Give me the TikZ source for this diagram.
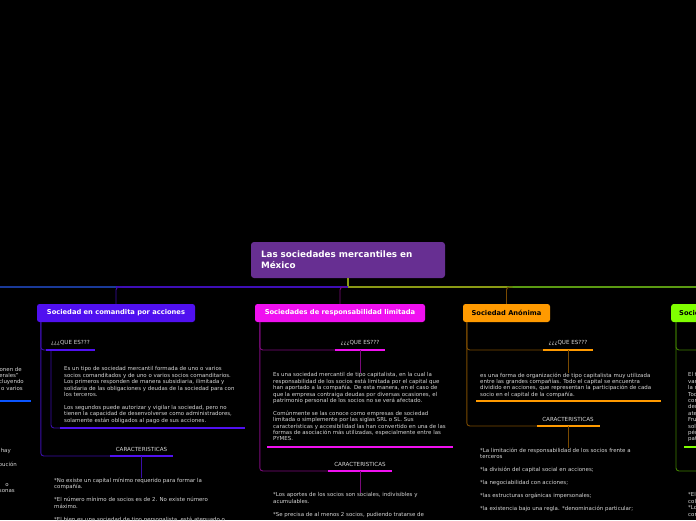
\documentclass[tikz,border=0pt]{standalone}
\usepackage{fontspec}
\setmainfont{DejaVu Sans}
\usetikzlibrary{positioning}

\definecolor{rootPurple}{HTML}{672F92}
\definecolor{cBlue}{HTML}{5010F0}
\definecolor{cMag}{HTML}{F010F0}
\definecolor{cOrange}{HTML}{FF9A00}
\definecolor{cGreen}{HTML}{80FF00}
\definecolor{cSky}{HTML}{0A55FF}
\definecolor{dBlue}{HTML}{3A0EA8}
\definecolor{dMag}{HTML}{7A0A7A}
\definecolor{dOrange}{HTML}{7A4A00}
\definecolor{dGreen}{HTML}{3F7F00}
\definecolor{lineNavy}{HTML}{1A3A99}
\definecolor{lineOlive}{HTML}{8A9A14}
\definecolor{lineGreen}{HTML}{5A9A12}
\definecolor{txt}{HTML}{D8D8D8}

\begin{document}
\begin{tikzpicture}[x=1pt,y=-1pt,
    topic/.style={rounded corners=2.5pt,minimum height=18pt,inner sep=0pt,
      font=\fontsize{6.7}{8}\selectfont\bfseries},
    tag/.style={inner sep=0pt,text=txt,font=\fontsize{5.6}{6}\selectfont},
    info/.style={anchor=north west,align=left,inner sep=0pt,text=txt,
      font=\fontsize{5.45}{6.4}\selectfont},
    cut/.style={anchor=east,inner sep=0pt,text=txt,font=\fontsize{5.45}{6.4}\selectfont},
    bar/.style={line width=2.4pt},
    link/.style={line width=0.9pt,rounded corners=3pt}]

    \useasboundingbox (0,0) rectangle (696,520);
    \fill[black] (0,0) rectangle (696,520);
    \clip (0,0) rectangle (696,520);

    % root and main line
    \node[rounded corners=3pt,fill=rootPurple,text=white,align=left,
      text width=174pt,inner xsep=10pt,inner ysep=0pt,minimum height=36pt,
      font=\fontsize{8.8}{11}\selectfont\bfseries] (root) at (348,260)
      {Las sociedades mercantiles en\\México};
    \coordinate (hub) at (348,287);
    \coordinate (westEnd) at (0,287);
    \coordinate (eastEnd) at (696,287);
    \draw[line width=1.2pt,lineOlive] (root.south) -- (hub);

    % branch nodes
    \node[topic,fill=cBlue,text=white,minimum width=158pt] (bN) at (116,313) {Sociedad en comandita por acciones};
    \node[topic,fill=cMag,text=white,minimum width=170pt] (mN) at (340,313) {Sociedades de responsabilidad limitada};
    \node[topic,fill=cOrange,text=black,minimum width=87pt] (oN) at (506.5,313) {Sociedad Anónima};
    \node[topic,fill=cGreen,text=black,inner xsep=8pt,anchor=west] (gN) at (671,313) {Sociedad en nombre colectivo};

    \draw[line width=1.2pt,lineNavy] (westEnd) -- (bN.north |- hub);
    \draw[line width=1.2pt,dBlue!80!cBlue] (bN.north |- hub) -- (hub);
    \draw[line width=1.2pt,lineOlive] (hub) -- (oN.north |- hub);
    \draw[line width=1.2pt,lineGreen] (oN.north |- hub) -- (eastEnd);
    \draw[link,dBlue] (bN.north) |- ([xshift=6pt]bN.north |- hub);
    \draw[link,dMag] (mN.north) |- ([xshift=6pt]mN.north |- hub);
    \draw[link,dOrange] (oN.north) |- ([xshift=6pt]oN.north |- hub);

    % ---- Sociedad en comandita por acciones
    \coordinate (bQa) at (46,350);  \coordinate (bQb) at (95,350);
    \coordinate (bIa) at (60,428);  \coordinate (bIb) at (245,428);
    \coordinate (bCa) at (110,456); \coordinate (bCb) at (173,456);
    \draw[link,dBlue] ([xshift=4pt]bN.south west) |- (bCa);
    \draw[link,dBlue] ([xshift=4pt]bN.south west) |- (bQa);
    \draw[link,dBlue] ([xshift=5pt]bQa) |- (bIa);
    \draw[bar,cBlue] (bQa) -- (bQb);
    \draw[bar,cBlue] (bIa) -- (bIb);
    \draw[bar,cBlue] (bCa) -- (bCb);
    \node[tag] (bQ) at (70.5,343) {¿¿¿QUE ES???};
    \node[tag] (bC) at (141.5,449) {CARACTERISTICAS};
    \node[info] (bQt) at (64,366.5) {Es un tipo de sociedad mercantil formada de uno o varios\\
      socios comanditados y de uno o varios socios comanditarios.\\
      Los primeros responden de manera subsidiaria, ilimitada y\\
      solidaria de las obligaciones y deudas de la sociedad para con\\
      los terceros.\\[6.6pt]
      Los segundos puede autorizar y vigilar la sociedad, pero no\\
      tienen la capacidad de desenvolverse como administradores,\\
      solamente están obligados al pago de sus acciones.};
    \node[info] (bCt) at (54,477.5) {*No existe un capital mínimo requerido para formar la\\
      compañía.\\[7pt]
      *El número mínimo de socios es de 2. No existe número\\
      máximo.\\[7pt]
      *El bien es una sociedad de tipo personalista, está atenuado o};
    \draw[link,dBlue] (bC |- bCa) -- (bC |- bCt.north);

    % ---- Sociedades de responsabilidad limitada
    \coordinate (mQa) at (335,350); \coordinate (mQb) at (385,350);
    \coordinate (mIa) at (267,447); \coordinate (mIb) at (453,447);
    \coordinate (mCa) at (328,471); \coordinate (mCb) at (392,471);
    \draw[link,dMag] ([xshift=5pt]mN.south west) |- (mCa);
    \draw[link,dMag] ([xshift=5pt]mN.south west) |- (mQa);
    \draw[bar,cMag] (mQa) -- (mQb);
    \draw[bar,cMag] (mIa) -- (mIb);
    \draw[bar,cMag] (mCa) -- (mCb);
    \node[tag] (mQ) at (360,343) {¿¿¿QUE ES???};
    \node[tag] (mC) at (360,464) {CARACTERISTICAS};
    \node[info] (mQt) at (273,372.5) {Es una sociedad mercantil de tipo capitalista, en la cual la\\
      responsabilidad de los socios está limitada por el capital que\\
      han aportado a la compañía. De esta manera, en el caso de\\
      que la empresa contraiga deudas por diversas ocasiones, el\\
      patrimonio personal de los socios no se verá afectado.\\[6.4pt]
      Comúnmente se las conoce como empresas de sociedad\\
      limitada o simplemente por las siglas SRL o SL. Sus\\
      características y accesibilidad las han convertido en una de las\\
      formas de asociación más utilizadas, especialmente entre las\\
      PYMES.};
    \node[info] (mCt) at (273,492.5) {*Los aportes de los socios son sociales, indivisibles y\\
      acumulables.\\[6.4pt]
      *Se precisa de al menos 2 socios, pudiendo tratarse de};
    \draw[link,dMag] (mQ |- mQa) -- (mQ |- mQt.north);
    \draw[link,dMag] (mC |- mCa) -- (mC |- mCt.north);

    % ---- Sociedad Anonima
    \coordinate (oQa) at (543,350); \coordinate (oQb) at (593,350);
    \coordinate (oIa) at (476,401); \coordinate (oIb) at (661,401);
    \coordinate (oCa) at (537,426); \coordinate (oCb) at (600,426);
    \draw[link,dOrange] ([xshift=4pt]oN.south west) |- (oCa);
    \draw[link,dOrange] ([xshift=4pt]oN.south west) |- (oQa);
    \draw[bar,cOrange] (oQa) -- (oQb);
    \draw[bar,cOrange] (oIa) -- (oIb);
    \draw[bar,cOrange] (oCa) -- (oCb);
    \node[tag] (oQ) at (568,343) {¿¿¿QUE ES???};
    \node[tag] (oC) at (568,419) {CARACTERISTICAS};
    \node[info] (oQt) at (480,372.5) {es una forma de organización de tipo capitalista muy utilizada\\
      entre las grandes compañías. Todo el capital se encuentra\\
      dividido en acciones, que representan la participación de cada\\
      socio en el capital de la compañía.};
    \node[info] (oCt) at (480,447.5) {*La limitación de responsabilidad de los socios frente a\\
      terceros\\[6.6pt]
      *la división del capital social en acciones;\\[6.6pt]
      *la negociabilidad con acciones;\\[6.6pt]
      *las estructuras orgánicas impersonales;\\[6.6pt]
      *la existencia bajo una regla. *denominación particular;};
    \draw[link,dOrange] (oQ |- oQa) -- (oQ |- oQt.north);
    \draw[link,dOrange] (oC |- oCa) -- (oC |- oCt.north);

    % ---- green branch (cut at the right edge)
    \coordinate (gQa) at (720,350);
    \coordinate (gCa) at (720,471);
    \coordinate (gIa) at (684,447); \coordinate (gIb) at (712,447);
    \draw[link,dGreen] ([xshift=5pt]gN.south west) |- (gCa);
    \draw[link,dGreen] ([xshift=5pt]gN.south west) |- (gQa);
    \draw[bar,cGreen] (gIa) -- (gIb);
    \node[info] (gQt) at (688,372.5) {El t\\ var\\ la r\\ Tod\\ cor\\ der\\ ate\\ Fru\\ sol\\ pér\\ pat};
    \node[info] (gCt) at (688,492.5) {*El\\ col\\ *Lo\\ cor};

    % ---- left branch (cut at the left edge)
    \draw[bar,cSky] (0,401) -- (31,401);
    \node[cut] (l1) at (22,369) {onen de};
    \node[cut] (l2) at (19,375.5) {erales"};
    \node[cut] (l3) at (24,382) {cluyendo};
    \node[cut] (l4) at (23,388) {o varios};
    \node[cut] (l5) at (11,451) {hay};
    \node[cut] (l6) at (17,464) {bución};
    \node[cut] (l7) at (9,485) {o};
    \node[cut] (l8) at (15,491) {sonas};
\end{tikzpicture}
\end{document}
